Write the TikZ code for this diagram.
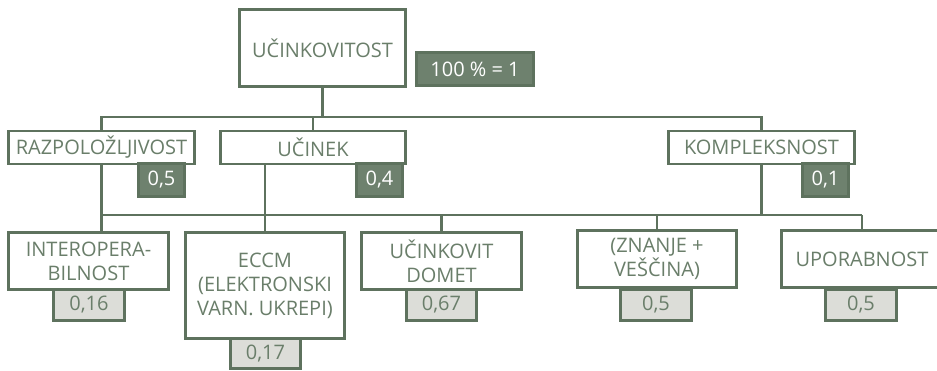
\documentclass[tikz,border=0pt]{standalone}
\usepackage{fontspec}
\setmainfont{Open Sans}
\definecolor{edge}{HTML}{5E725E}
\definecolor{txt}{HTML}{6A7E6A}
\definecolor{valdark}{HTML}{6E816E}
\definecolor{vallight}{HTML}{DCDDD8}
\begin{document}
\begin{tikzpicture}[x=1pt,y=-1pt,
  box/.style={draw=edge, line width=2.6pt, fill=white, text=txt, inner sep=0pt, align=center,
    font=\fontsize{20}{24}\selectfont},
  dval/.style={draw=edge, line width=2.6pt, fill=valdark, text=white, inner sep=0pt,
    font=\fontsize{20}{24}\selectfont},
  lval/.style={draw=edge, line width=2.6pt, fill=vallight, text=txt, inner sep=0pt,
    font=\fontsize{20}{24}\selectfont},
  link/.style={draw=edge, line width=2.6pt}]
\useasboundingbox (0,0) rectangle (937,371);
% bus levels
\coordinate (bus1) at (0,117);
\coordinate (bus2) at (0,215);
% top
\node[box, minimum width=166, minimum height=77] (top) at (322.5,48) {UČINKOVITOST};
% level 2
\node[box, minimum width=186, minimum height=33] (raz) at (101.5,147.5) {RAZPOLOŽLJIVOST};
\node[box, minimum width=185, minimum height=33] (uci) at (313,147.5) {UČINEK};
\node[box, minimum width=186, minimum height=33] (kom) at (761.5,147.5) {KOMPLEKSNOST};
% level 3
\node[box, minimum width=160, minimum height=57] (int) at (88.5,261) {INTEROPERA-\\BILNOST};
\node[box, minimum width=159, minimum height=106] (ecc) at (265,285.5) {ECCM\\(ELEKTRONSKI\\VARN. UKREPI)};
\node[box, minimum width=160, minimum height=57] (dom) at (441.5,261) {UČINKOVIT\\DOMET};
\node[box, minimum width=159, minimum height=57] (zna) at (657,259) {(ZNANJE +\\VEŠČINA)};
\node[box, minimum width=161, minimum height=57] (upo) at (862,259) {UPORABNOST};
% connectors
\draw[link] (top.south) -- (top.south |- bus1);
\draw[link] (raz.north) |- (kom.north |- bus1) -- (kom.north);
\draw[link] (uci.north) -- (uci.north |- bus1);
\draw[link] (raz.south) -- (raz.south |- int.north);
\draw[link] (raz.south |- bus2) -- (upo.north |- bus2);
\draw[link] (uci.south -| ecc.north) -- (ecc.north);
\draw[link] (kom.south) -- (kom.south |- bus2);
\draw[link] (dom.north) -- (dom.north |- bus2);
\draw[link] (zna.north) -- (zna.north |- bus2);
\draw[link] (upo.north) -- (upo.north |- bus2);
% weights
\node[dval, minimum width=117, minimum height=33] (w100) at (475,69) {100 \% = 1};
\node[dval, minimum width=46, minimum height=33] (wraz) at (161.5,180) {0,5};
\node[dval, minimum width=46, minimum height=33] (wuci) at (379.5,180) {0,4};
\node[dval, minimum width=46, minimum height=33] (wkom) at (825.5,180) {0,1};
\node[lval, minimum width=71, minimum height=31] (wint) at (89,305) {0,16};
\node[lval, minimum width=70, minimum height=30] (wecc) at (265.5,353.5) {0,17};
\node[lval, minimum width=70, minimum height=31] (wdom) at (441.5,305) {0,67};
\node[lval, minimum width=71, minimum height=31] (wzna) at (656,305) {0,5};
\node[lval, minimum width=71, minimum height=31] (wupo) at (861,305) {0,5};
\end{tikzpicture}
\end{document}
